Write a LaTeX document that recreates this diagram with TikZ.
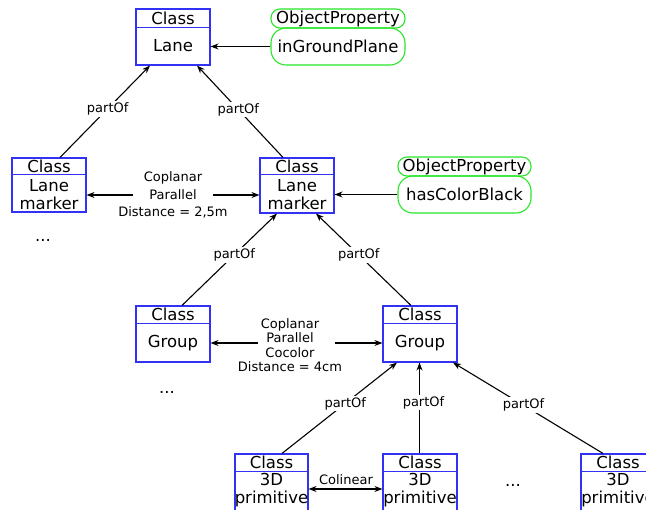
\documentclass[tikz,border=0pt]{standalone}
\usepackage{fontspec}
\setmainfont{DejaVu Sans}
\usetikzlibrary{arrows.meta,calc}
\definecolor{boxblue}{RGB}{50,50,245}
\definecolor{propgreen}{RGB}{40,230,40}
\tikzset{
  cls/.style={draw=boxblue, line width=1.1pt, minimum width=74pt, inner sep=0pt},
  hdr/.style={draw=boxblue, line width=1.1pt},
  big/.style={font=\fontsize{16.5}{18}\selectfont, inner sep=0pt, align=center},
  small/.style={font=\fontsize{13}{17.5}\selectfont, inner sep=0pt, align=center},
  prop/.style={draw=propgreen, line width=1.1pt, minimum width=134pt, inner sep=0pt},
  arr/.style={line width=1.1pt, -{Stealth[length=8pt,width=6pt]}},
  darr/.style={line width=1.1pt, {Stealth[length=8pt,width=6pt]}-{Stealth[length=8pt,width=6pt]}},
  lbl/.style={small, fill=white, inner sep=1.5pt}
}
\begin{document}
\begin{tikzpicture}[x=1pt,y=-1pt]
\clip (0,0) rectangle (646,510);
\fill[white] (0,0) rectangle (646,510);

% --- Lane
\node[cls, minimum height=56pt] (lane) at (173,37) {};
\draw[hdr] ([yshift=-19pt]lane.north west) -- ([yshift=-19pt]lane.north east);
\node[big] at ([yshift=-9.5pt]lane.north) {Class};
\node[big] at (173,46) {Lane};

\node[prop, minimum height=19pt, rounded corners=9pt] (op1) at (338,18.5) {};
\node[big] at (op1) {ObjectProperty};
\node[prop, minimum height=37pt, rounded corners=15pt] (ip1) at (338,46.5) {};
\node[big] at (ip1) {inGroundPlane};
\draw[arr] (ip1.west) -- (ip1.west -| lane.east);

% --- Lane markers
\node[cls, minimum height=54pt] (lml) at (49,185) {};
\draw[hdr] ([yshift=-17pt]lml.north west) -- ([yshift=-17pt]lml.north east);
\node[big] at ([yshift=-8.5pt]lml.north) {Class};
\node[big] at (49,194.5) {Lane\\marker};

\node[cls, minimum height=55pt] (lmr) at (297,185.5) {};
\draw[hdr] ([yshift=-17pt]lmr.north west) -- ([yshift=-17pt]lmr.north east);
\node[big] at ([yshift=-8.5pt]lmr.north) {Class};
\node[big] at (297,194.5) {Lane\\marker};

\node[prop, minimum width=133pt, minimum height=19pt, rounded corners=9pt] (op2) at (464.5,166.5) {};
\node[big] at (op2) {ObjectProperty};
\node[prop, minimum width=133pt, minimum height=37pt, rounded corners=15pt] (hcb) at (464.5,194.5) {};
\node[big] at (hcb) {hasColorBlack};
\draw[arr] (hcb.west) -- (hcb.west -| lmr.east);

\node[small] (c1) at (173,195) {Coplanar\\Parallel\\Distance = 2,5m};
\coordinate (c1l) at (133,195);
\coordinate (c1r) at (213,195);
\draw[arr] (c1l) -- (c1l -| lml.east);
\draw[arr] (c1r) -- (c1r -| lmr.west);

\node[big] (d1) at (43,240) {...};

% --- Groups
\node[cls, minimum height=56pt] (gl) at (173,334) {};
\draw[hdr] ([yshift=-18pt]gl.north west) -- ([yshift=-18pt]gl.north east);
\node[big] at ([yshift=-9pt]gl.north) {Class};
\node[big] at (173,343) {Group};

\node[cls, minimum height=56pt] (gr) at (420,334) {};
\draw[hdr] ([yshift=-18pt]gr.north west) -- ([yshift=-18pt]gr.north east);
\node[big] at ([yshift=-9pt]gr.north) {Class};
\node[big] at (420,343) {Group};

\node[small, font=\fontsize{13}{14.5}\selectfont] (c2) at (290,345) {Coplanar\\Parallel\\Cocolor\\Distance = 4cm};
\coordinate (c2l) at (258,343);
\coordinate (c2r) at (335,343);
\draw[arr] (c2l) -- (c2l -| gl.east);
\draw[arr] (c2r) -- (c2r -| gr.west);

\node[big] (d2) at (167,392) {...};

% --- 3D primitives
\node[cls, minimum width=73pt, minimum height=64pt] (p1) at (271.5,486) {};
\draw[hdr] ([yshift=-18pt]p1.north west) -- ([yshift=-18pt]p1.north east);
\node[big] at ([yshift=-9pt]p1.north) {Class};
\node[big] at (271.5,490) {3D\\primitive};

\node[cls, minimum height=64pt] (p2) at (420,486) {};
\draw[hdr] ([yshift=-18pt]p2.north west) -- ([yshift=-18pt]p2.north east);
\node[big] at ([yshift=-9pt]p2.north) {Class};
\node[big] at (420,490) {3D\\primitive};

\node[cls, minimum height=64pt] (p3) at (618,486) {};
\draw[hdr] ([yshift=-18pt]p3.north west) -- ([yshift=-18pt]p3.north east);
\node[big] at ([yshift=-9pt]p3.north) {Class};
\node[big] at (618,490) {3D\\primitive};

\node[small] (col) at (346,480) {Colinear};
\draw[darr] ([yshift=-3pt]p1.east) -- ([yshift=-3pt]p2.west);
\node[big] (d3) at (513,485) {...};

% --- partOf edges
\draw[arr] ([xshift=11pt]lml.north) -- node[lbl, pos=0.53] {partOf} ([xshift=-23pt]lane.south);
\draw[arr] ([xshift=-14pt]lmr.north) -- node[lbl, pos=0.52] {partOf} ([xshift=24pt]lane.south);
\draw[arr] ([xshift=9pt]gl.north) -- node[lbl, pos=0.55] {partOf} ([xshift=-20pt]lmr.south);
\draw[arr] ([xshift=-9pt]gr.north) -- node[lbl, pos=0.55] {partOf} ([xshift=19pt]lmr.south);
\draw[arr] ([xshift=10.5pt]p1.north) -- node[lbl, pos=0.55] {partOf} ([xshift=-23pt]gr.south);
\draw[arr] ([xshift=-0.5pt]p2.north) -- node[lbl, pos=0.56, xshift=4pt] {partOf} ([xshift=-0.5pt]gr.south);
\draw[arr] ([xshift=-15pt]p3.north) -- node[lbl, pos=0.53] {partOf} ([xshift=33pt]gr.south);
\end{tikzpicture}
\end{document}
